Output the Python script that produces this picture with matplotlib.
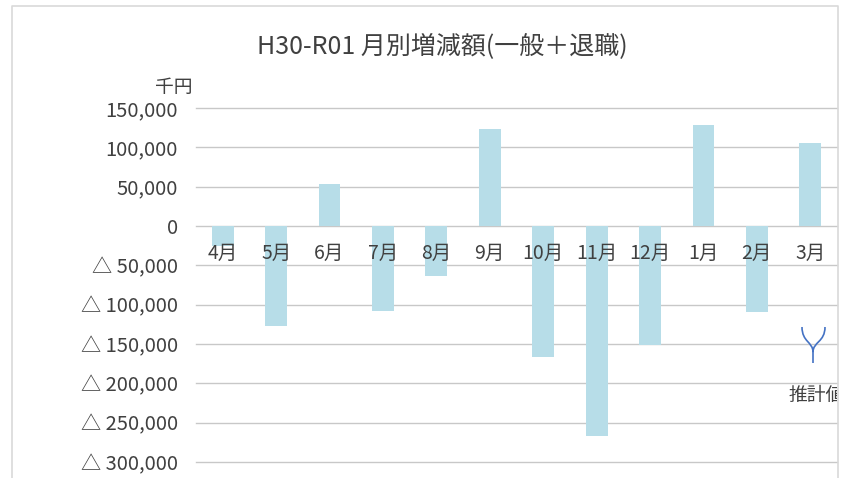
import matplotlib.pyplot as plt
from matplotlib.path import Path
from matplotlib.patches import PathPatch, Rectangle
from matplotlib.transforms import IdentityTransform

plt.rcParams['font.family'] = ['Noto Sans CJK JP', 'DejaVu Sans']

months = ['4月', '5月', '6月', '7月', '8月', '9月', '10月', '11月', '12月', '1月', '2月', '3月']
values = [-25000, -127000, 53000, -108000, -64000, 123000, -167000, -267000, -151000, 129000, -109000, 105000]
yticks = [150000, 100000, 50000, 0, -50000, -100000, -150000, -200000, -250000, -300000]

W, H = 841, 478
txt = '#404040'

fig = plt.figure(figsize=(W / 100, H / 100), dpi=100)
ax = fig.add_axes([196 / W, (H - 462) / H, 641 / W, 354 / H])

x = range(len(months))
ax.bar(x, values, width=0.41, color='#B7DDE8', zorder=2)
ax.set_xlim(-0.5, len(months) - 0.5)
ax.set_ylim(-300000, 150000)

def fmt(v):
    if v < 0:
        return '△ {:,}'.format(-v)
    return '{:,}'.format(v)

ax.set_yticks(yticks)
ax.set_yticklabels([fmt(v) for v in yticks], fontsize=14.5, color=txt)
ax.tick_params(axis='y', length=0, pad=13)
ax.set_xticks([])
ax.grid(axis='y', color='#C8C8C8', linewidth=1, zorder=0)
for gl in ax.get_ygridlines():
    gl.set_clip_on(False)
for s in ax.spines.values():
    s.set_visible(False)

# category labels sit just under the zero line
for i, m in enumerate(months):
    ax.annotate(m, (i, 0), xytext=(0, -12), textcoords='offset points',
                ha='center', va='top', fontsize=14, color=txt, zorder=3)

fig.text(0.526, 1 - 46 / H, 'H30-R01 月別増減額(一般＋退職)', ha='center', va='center',
         fontsize=18, color=txt)
fig.text(174 / W, 1 - 88 / H, '千円', ha='center', va='center', fontsize=13.5, color=txt)

# brace marking the estimated value
def py(y):
    return H - y

verts = [(802, py(327)), (802, py(342)), (813, py(342)), (813, py(352)),
         (813, py(342)), (825, py(342)), (825, py(327)),
         (813, py(352)), (813, py(363))]
codes = [Path.MOVETO, Path.CURVE4, Path.CURVE4, Path.CURVE4,
         Path.CURVE4, Path.CURVE4, Path.CURVE4,
         Path.MOVETO, Path.LINETO]
fig.add_artist(PathPatch(Path(verts, codes), transform=IdentityTransform(),
                         fill=False, edgecolor='#4472C4', linewidth=1.2))

# the reference crop cuts this label at the frame edge
t = fig.text(789 / W, 1 - 395 / H, '推計値', ha='left', va='center', fontsize=13.5, color=txt)
clip = Rectangle((0, 0), 837 / W, 1, transform=fig.transFigure, visible=False)
fig.add_artist(clip)
t.set_clip_path(clip)

# outer chart frame (cropped at the bottom)
fig.add_artist(plt.Line2D([12 / W, 12 / W, 838 / W, 838 / W], [0, 1 - 6 / H, 1 - 6 / H, 0],
                          transform=fig.transFigure, color='#D9D9D9', linewidth=1.2))

fig.savefig('out.png', dpi=100)
